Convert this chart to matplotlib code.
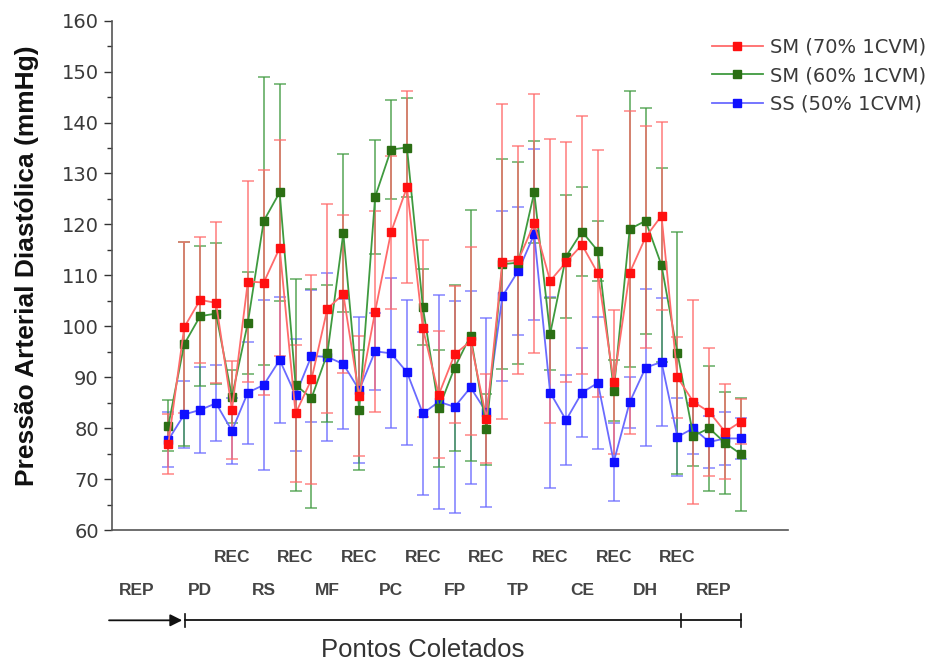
import numpy as np
import matplotlib
matplotlib.use('Agg')
import matplotlib.pyplot as plt
import matplotlib.transforms as mtransforms
from matplotlib.ticker import MultipleLocator

plt.rcParams['font.family'] = ['Liberation Sans', 'DejaVu Sans']

# 37 coleta points
red_mean = [76.9, 99.8, 105.2, 104.6, 83.6, 108.8, 108.6, 115.4, 82.9, 89.6, 103.5, 106.3, 86.3,
            102.9, 118.5, 127.3, 99.6, 86.6, 94.5, 97.1, 81.9, 112.7, 113.0, 120.2, 108.9, 112.6,
            116.0, 110.4, 89.1, 110.5, 117.5, 121.7, 90.0, 85.2, 83.2, 79.3, 81.3]
red_sd = [5.8, 16.8, 12.4, 15.8, 9.6, 19.8, 22.0, 21.2, 13.4, 20.5, 20.5, 15.5, 11.8, 19.7, 15.0,
          18.8, 17.3, 12.5, 13.4, 18.5, 8.8, 30.9, 22.4, 25.4, 27.8, 23.6, 25.3, 24.3, 14.1, 31.7,
          21.8, 18.5, 8.0, 20.0, 12.5, 9.3, 4.4]

green_mean = [80.5, 96.5, 102.0, 102.5, 86.2, 100.7, 120.7, 126.3, 88.5, 85.9, 94.7, 118.3, 83.6,
              125.4, 134.7, 135.1, 103.8, 83.9, 91.9, 98.2, 79.8, 112.2, 112.5, 126.3, 98.5, 113.7,
              118.6, 114.8, 87.4, 119.1, 120.7, 112.0, 94.8, 78.5, 80.0, 77.1, 74.9]
green_sd = [5.0, 20.0, 13.8, 13.9, 5.2, 10.0, 28.3, 21.3, 20.8, 21.5, 13.4, 15.5, 11.7, 11.2, 9.7,
            9.7, 7.4, 11.5, 16.3, 24.6, 7.0, 20.6, 19.8, 10.0, 7.0, 12.1, 8.8, 5.9, 6.0, 27.0,
            22.2, 19.0, 23.8, 6.0, 12.3, 10.0, 11.1]

blue_mean = [77.7, 82.7, 83.6, 84.9, 79.5, 87.0, 88.5, 93.4, 86.5, 94.2, 94.0, 92.6, 87.5, 95.1,
             94.7, 91.0, 82.9, 85.2, 84.2, 88.0, 83.1, 105.9, 110.9, 118.1, 87.0, 81.6, 87.0,
             88.9, 73.4, 85.1, 91.9, 93.0, 78.3, 80.0, 77.3, 78.0, 78.0]
blue_sd = [5.4, 6.5, 8.5, 7.5, 6.5, 10.0, 16.6, 12.3, 11.0, 13.0, 16.5, 12.8, 14.4, 7.5, 14.7,
           14.2, 16.0, 21.0, 20.8, 19.0, 18.5, 16.7, 12.6, 16.8, 18.8, 8.8, 8.8, 12.9, 7.6, 5.0,
           15.4, 12.5, 7.6, 5.0, 5.2, 5.2, 4.0]

series_labels = ['SM (70% 1CVM)', 'SM (60% 1CVM)', 'SS (50% 1CVM)']

# lower annotation: phase labels and where they sit on the point index
rec_pos = [4, 8, 12, 16, 20, 24, 28, 32]
phase_labels = ['REP', 'PD', 'RS', 'MF', 'PC', 'FP', 'TP', 'CE', 'DH', 'REP']
phase_pos = [-2, 2, 6, 10, 14, 18, 22, 26, 30, 34.3]

x = np.arange(len(red_mean))

fig = plt.figure(figsize=(9.49, 6.66), dpi=100)
ax = fig.add_axes([0.118, 0.204, 0.712, 0.765])

styles = [
    (blue_mean, blue_sd, '#1010ff', '#6a6aff', series_labels[2]),
    (green_mean, green_sd, '#2b6e14', '#3f9a3f', series_labels[1]),
    (red_mean, red_sd, '#ff1010', '#ff6a6a', series_labels[0]),
]
handles = {}
for mean, sd, mc, lc, lab in styles:
    ax.errorbar(x, mean, yerr=sd, fmt='none', ecolor=lc, elinewidth=1.3, capsize=4,
                capthick=1.2, alpha=0.75, zorder=2)
    h, = ax.plot(x, mean, '-', color=lc, lw=1.3, marker='s', markersize=6,
                 markerfacecolor=mc, markeredgecolor=mc, label=lab, zorder=3)
    handles[lab] = h

ax.set_xlim(-3.54, 38.93)
ax.set_ylim(60, 160)
ax.yaxis.set_major_locator(MultipleLocator(10))
ax.yaxis.set_minor_locator(MultipleLocator(5))
ax.tick_params(axis='y', which='major', length=6, width=1, labelsize=14, colors='#333333',
               labelcolor='#3a3a3a')
ax.tick_params(axis='y', which='minor', length=3.5, width=1, colors='#333333')
for t in ax.get_yticklabels():
    t.set_fontfamily('DejaVu Sans')
ax.set_xticks([])
for s in ['top', 'right']:
    ax.spines[s].set_visible(False)
for s in ['left', 'bottom']:
    ax.spines[s].set_color('#555555')
    ax.spines[s].set_linewidth(1.2)

ax.set_ylabel('Pressão Arterial Diastólica (mmHg)', fontsize=19, fontweight='bold',
              color='#111111')
ax.yaxis.set_label_coords(-0.108, 0.52)

fig.legend([handles[l] for l in series_labels], series_labels, loc='upper left',
           bbox_to_anchor=(0.732, 0.97), frameon=False, labelcolor='#3a3a3a',
           handlelength=2.6, handletextpad=0.35, labelspacing=0.5,
           prop={'family': 'DejaVu Sans', 'size': 14})

trans = mtransforms.blended_transform_factory(ax.transData, ax.transAxes)
for p in rec_pos:
    ax.text(p, -0.053, 'REC', transform=trans, ha='center', va='center', fontsize=12.5,
            fontweight='bold', color='#444444', clip_on=False)
for p, lab in zip(phase_pos, phase_labels):
    ax.text(p, -0.118, lab, transform=trans, ha='center', va='center', fontsize=12.5,
            fontweight='bold', color='#444444', clip_on=False)

ax.annotate('', xy=(1.05, -0.177), xytext=(-3.9, -0.177), xycoords=trans, textcoords=trans,
            arrowprops=dict(arrowstyle='-|>', color='#111111', lw=1.3, mutation_scale=18),
            annotation_clip=False)
ax.plot([1.05, 36], [-0.177, -0.177], transform=trans, color='#111111', lw=1.3, clip_on=False)
for p in [1.05, 32.2, 36]:
    ax.plot([p, p], [-0.165, -0.19], transform=trans, color='#111111', lw=1.2, clip_on=False)

ax.text(16, -0.236, 'Pontos Coletados', transform=trans, ha='center', va='center',
        fontsize=18.5, color='#333333', clip_on=False)

fig.savefig('out.png', dpi=100)
